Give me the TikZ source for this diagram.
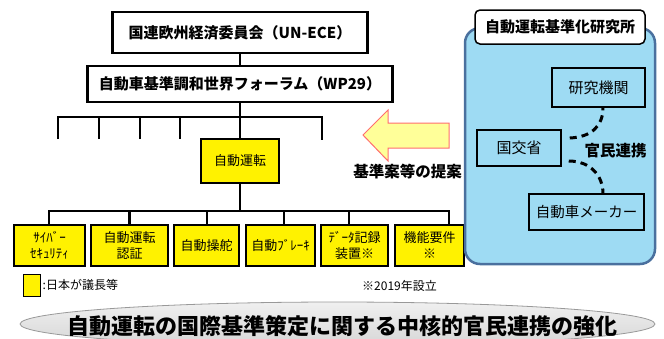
\documentclass[tikz,border=0pt]{standalone}
\usepackage{fontspec}
\setmainfont{Noto Sans CJK JP}
\definecolor{labblue}{RGB}{158,219,243}
\definecolor{labedge}{RGB}{74,112,158}
\definecolor{arrowfill}{RGB}{255,255,153}
\definecolor{arrowedge}{RGB}{255,110,110}
\begin{document}
\begin{tikzpicture}[x=1pt,y=-1pt,
    orgbox/.style={draw, line width=2.2pt, fill=white, inner sep=0pt, font=\bfseries\fontsize{15}{18}\selectfont},
    wgbox/.style={draw, line width=1.8pt, fill=yellow, inner sep=0pt, align=center, minimum height=41, font=\fontsize{13}{16}\selectfont},
    partbox/.style={draw, line width=1.5pt, inner sep=0pt, font=\fontsize{15}{18}\selectfont},
    tree/.style={line width=2.5pt},
    renkei/.style={line width=3pt, dash pattern=on 7pt off 5pt}]
        \useasboundingbox (0,0) rectangle (664,338);

        \node[orgbox, minimum width=255, minimum height=41] (unece) at (240,32.5) {国連欧州経済委員会（UN-ECE）};
        \node[orgbox, minimum width=305, minimum height=36] (wp29) at (240,84) {自動車基準調和世界フォーラム（WP29）};
        \node[wgbox, minimum width=78, minimum height=44] (jido) at (240,161) {自動運転};

        \node[wgbox, minimum width=71] (cyber) at (49.5,245.5) {ｻｲﾊﾞｰ\\ｾｷｭﾘﾃｨ};
        \node[wgbox, minimum width=77] (ninsho) at (129.5,245.5) {自動運転\\認証};
        \node[wgbox, minimum width=65] (soda) at (206.5,245.5) {自動操舵};
        \node[wgbox, minimum width=69] (brake) at (280.5,245.5) {自動ﾌﾞﾚｰｷ};
        \node[wgbox, minimum width=67] (data) at (354.5,245.5) {ﾃﾞｰﾀ記録\\装置※};
        \node[wgbox, minimum width=69] (kino) at (429.5,245.5) {機能要件\\※};

        \coordinate (b1) at (240,117);
        \coordinate (b2) at (240,211);
        \coordinate (t1) at (58,139);
        \coordinate (t2) at (99,139);
        \coordinate (t3) at (140,139);
        \coordinate (t4) at (180,139);
        \coordinate (t5) at (322,140);

        \draw[tree] (unece.south) -- (wp29.north);
        \draw[tree] (wp29.south) -- (jido.north);
        \draw[tree] (t1) -- (t1 |- b1) -- (t5 |- b1) -- (t5);
        \foreach \t in {t2,t3,t4}
            \draw[tree] (\t) -- (\t |- b1);
        \draw[tree] (jido.south) -- (b2);
        \draw[tree] ([xshift=-0.5]cyber.north) -- ([xshift=-0.5]cyber.north |- b2) -- ([xshift=19.5]kino.north |- b2) -- ([xshift=19.5]kino.north);
        \foreach \n/\s in {ninsho/0,soda/0.5,brake/3.5,data/-5.5}
            \draw[tree] ([xshift=\s]\n.north) -- ([xshift=\s]\n.north |- b2);

        \node[draw, line width=1pt, fill=yellow, minimum width=17, minimum height=22, inner sep=0pt] (key) at (31.5,285) {};
        \node[anchor=west, inner sep=2pt, font=\fontsize{12}{14}\selectfont] (keytext) at (key.east) {:日本が議長等};
        \node[font=\fontsize{12}{14}\selectfont] (note) at (399.5,286) {※2019年設立};

        \draw[fill=arrowfill, draw=arrowedge, line width=1pt] (363,135) -- (388,110) -- (388,123) -- (449,123) -- (449,148) -- (388,148) -- (388,161) -- cycle;
        \node[font=\bfseries\fontsize{15.5}{18}\selectfont] (teian) at (407.5,172) {基準案等の提案};

        \node[draw=labedge, fill=labblue, line width=2.5pt, rounded corners=15pt, minimum width=190, minimum height=236] (lab) at (560,146) {};
        \node[draw, fill=white, line width=1.5pt, rounded corners=5pt, minimum width=170, minimum height=34, inner sep=0pt, font=\bfseries\fontsize{15}{18}\selectfont] (labname) at (560,27) {自動運転基準化研究所};
        \node[partbox, minimum width=93, minimum height=39] (kenkyu) at (598.5,87.5) {研究機関};
        \node[partbox, minimum width=84, minimum height=36] (kokko) at (519,148) {国交省};
        \node[partbox, minimum width=115, minimum height=36, font=\fontsize{14.5}{17}\selectfont] (maker) at (586.5,212) {自動車メーカー};
        \node[font=\bfseries\fontsize{15.5}{18}\selectfont] (kanmin) at (615.5,151) {官民連携};
        \draw[renkei] ([shift={(8,-10)}]kokko.east) .. controls +(22,-1) and +(0,18) .. ([xshift=4.5]kenkyu.south);
        \draw[renkei] ([shift={(7,13)}]kokko.east) .. controls +(22,0) and +(0,-17) .. ([xshift=16.5]maker.north);

        \begin{scope}
            \clip (0,0) rectangle (664,338);
            \draw[gray!80, line width=0.8pt, top color=gray!12, bottom color=gray!32] (337.5,324) ellipse (317.5 and 22);
        \end{scope}
        \node[font=\bfseries\fontsize{22}{24}\selectfont] (goal) at (342,326) {自動運転の国際基準策定に関する中核的官民連携の強化};

    \end{tikzpicture}
\end{document}
